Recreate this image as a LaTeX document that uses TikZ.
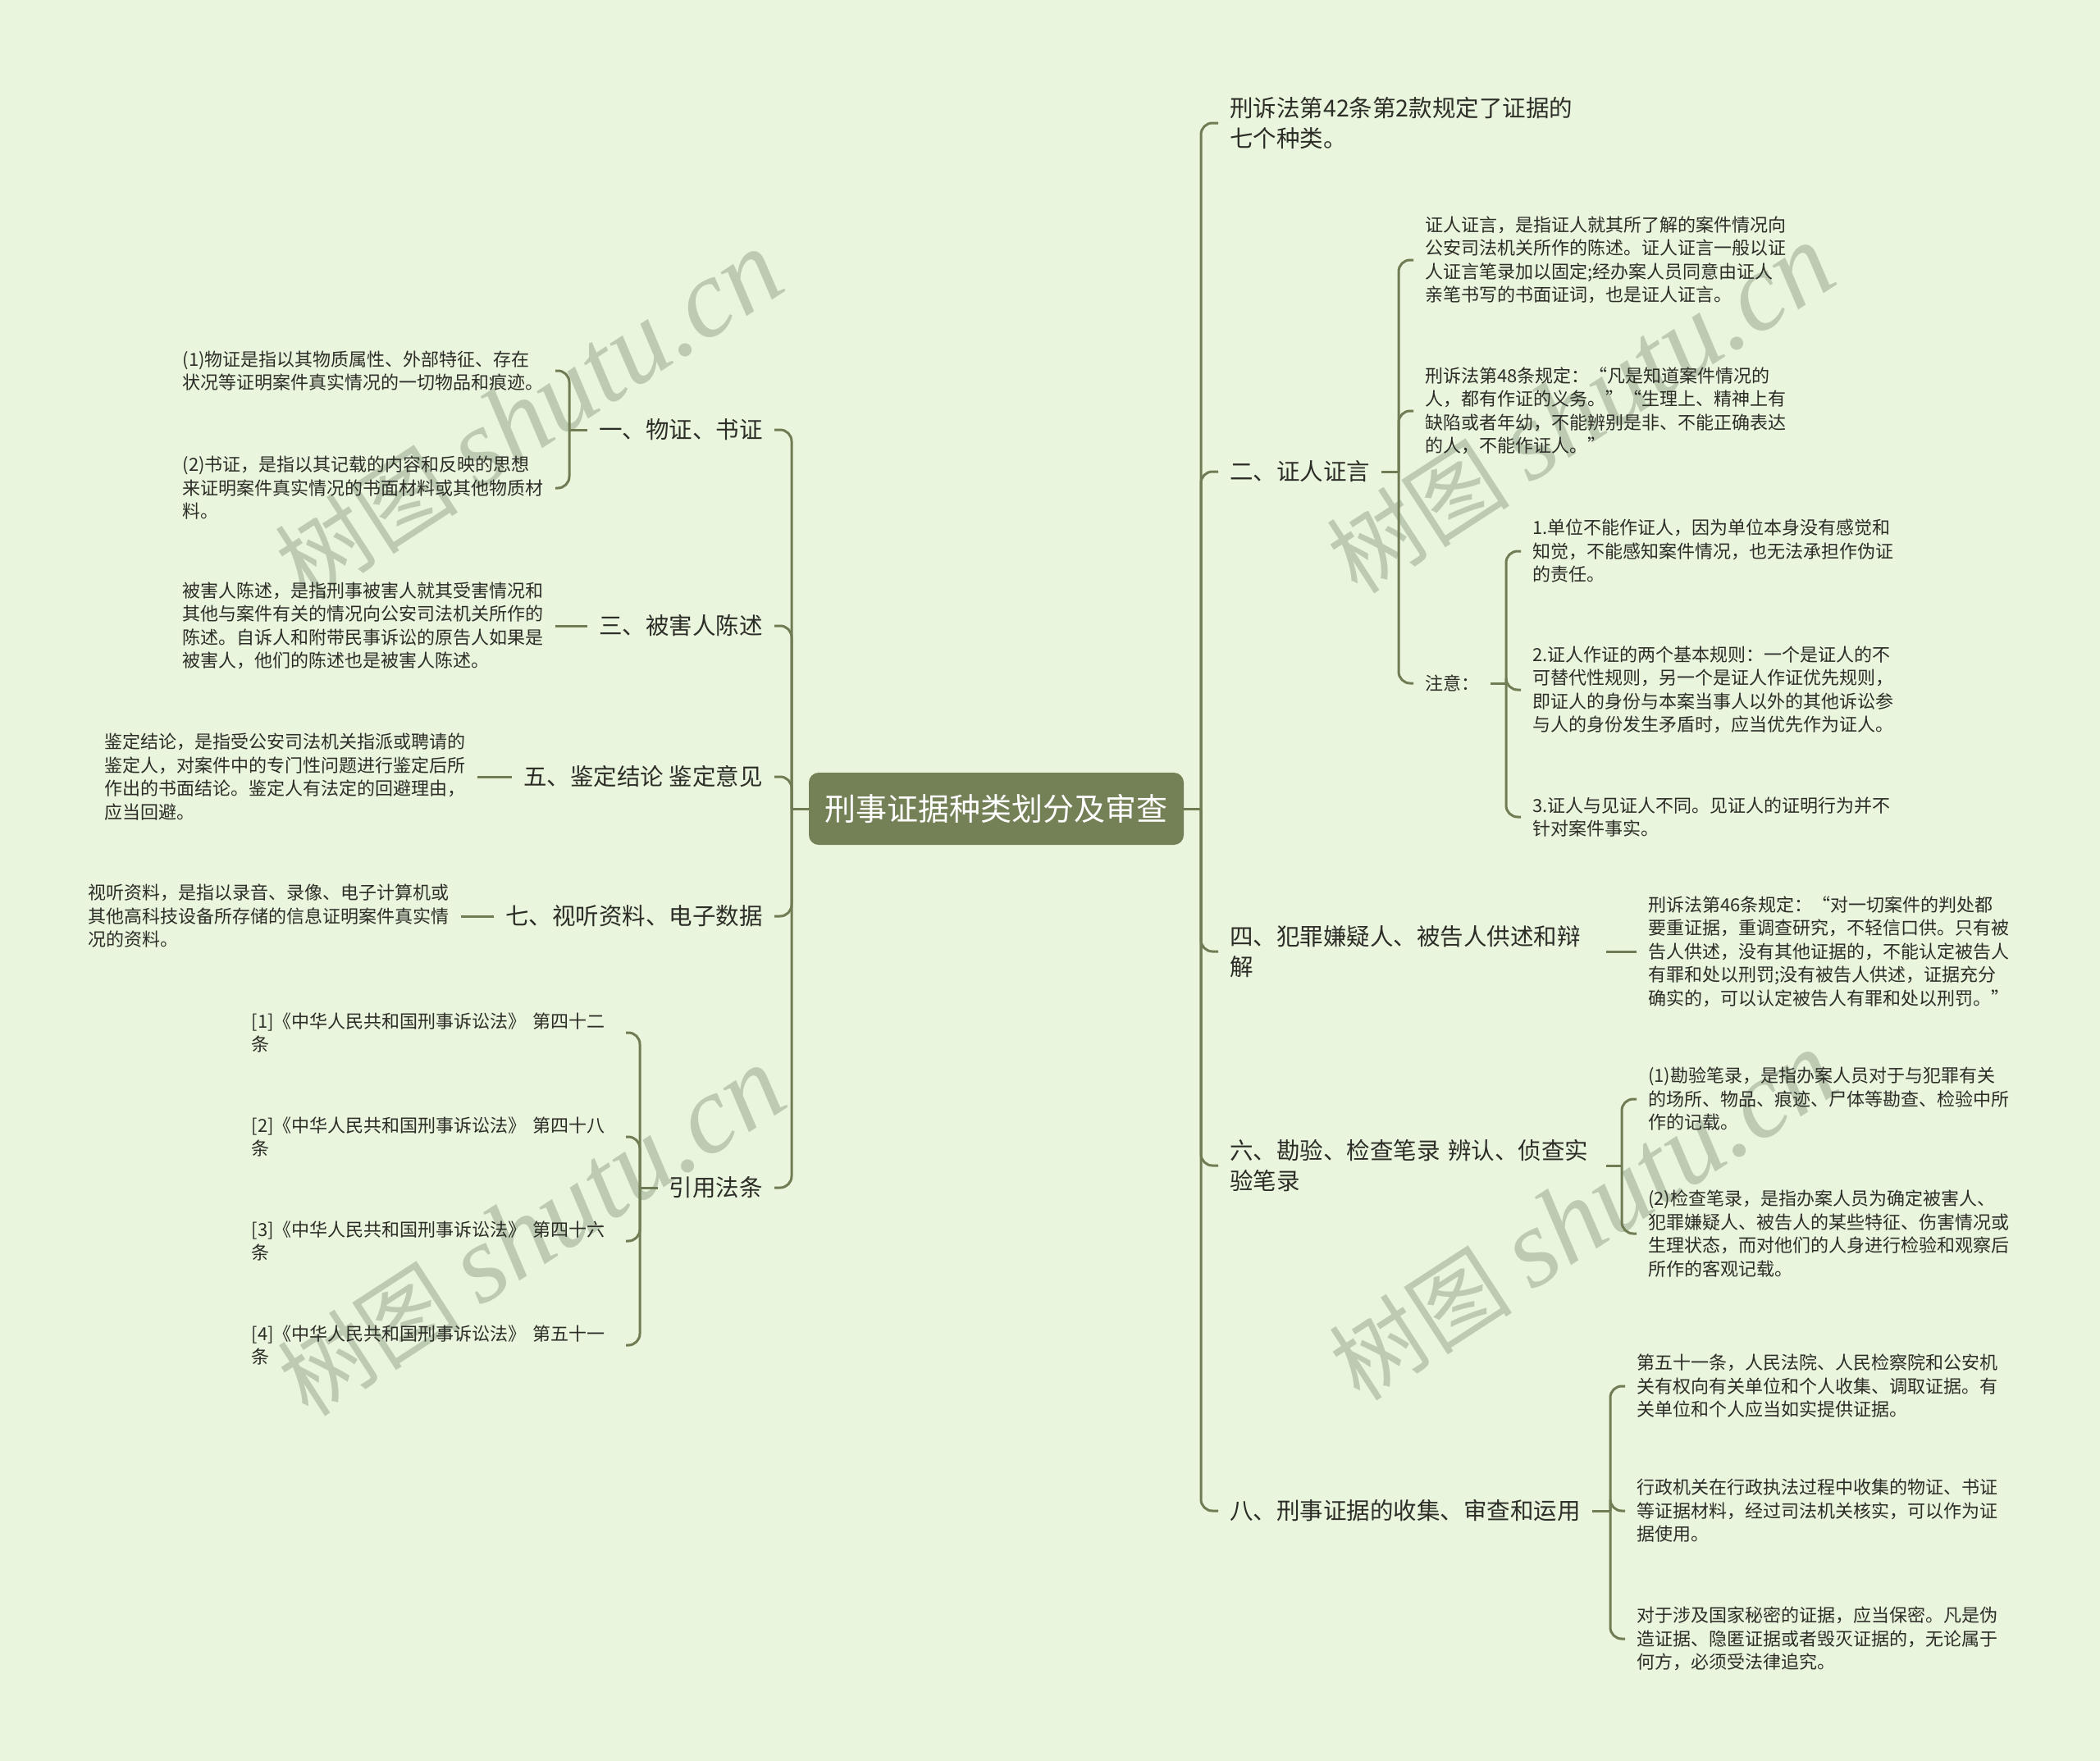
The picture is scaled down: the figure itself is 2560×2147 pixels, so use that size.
\documentclass[tikz,border=0pt]{standalone}
\usepackage{fontspec}
\setmainfont{Noto Sans CJK SC}
\newfontfamily\wmserif{Liberation Serif}
\definecolor{bg}{RGB}{233,245,220}
\definecolor{ln}{RGB}{112,124,84}
\definecolor{rootc}{RGB}{116,128,86}
\definecolor{txt}{RGB}{45,45,40}
\definecolor{wm}{RGB}{188,203,178}
\newcommand{\wmtext}{\fontsize{112}{112}\selectfont 树图\hspace{25pt}{\wmserif\itshape\fontsize{135}{135}\selectfont shutu.cn}}
\begin{document}
\begin{tikzpicture}[x=1pt,y=-1pt,
  edge/.style={draw=ln,line width=3pt,rounded corners=14pt},
  leaf/.style={font=\fontsize{22}{28.5}\selectfont,align=left,inner xsep=14pt,inner ysep=4pt,text=txt},
  big/.style={font=\fontsize{28.5}{37.5}\selectfont,align=left,inner xsep=14pt,inner ysep=4pt,text=txt},
  rootbox/.style={fill=rootc,rounded corners=12pt,text=white,font=\fontsize{38}{40}\selectfont,minimum width=457pt,minimum height=88pt,inner sep=0pt},
  wmark/.style={rotate=33,text=wm,inner sep=0pt}]
\fill[bg] (0,0) rectangle (2560,2147);
\useasboundingbox (0,0) rectangle (2560,2147);

% watermarks
\node[wmark] (w1) at (645,507) {\wmtext};
\node[wmark] (w2) at (1927,499) {\wmtext};
\node[wmark] (w3) at (648,1502) {\wmtext};
\node[wmark] (w4) at (1930,1483) {\wmtext};

% root
\node[rootbox] (C) at (1214.5,986) {刑事证据种类划分及审查};
\coordinate (tR) at (1464,986);
\coordinate (tL) at (965,986);

% right level 1
\node[big,anchor=west] (R1) at (1485,150) {刑诉法第42条第2款规定了证据的\\七个种类。};
\node[big,anchor=west] (R2) at (1485,575) {二、证人证言};
\node[big,anchor=west,text width=445pt] (R3) at (1485,1160) {四、犯罪嫌疑人、被告人供述和辩\\解};
\node[big,anchor=west,text width=445pt] (R4) at (1485,1421) {六、勘验、检查笔录 辨认、侦查实\\验笔录};
\node[big,anchor=west] (R5) at (1485,1842) {八、刑事证据的收集、审查和运用};

% R2 children
\node[leaf,anchor=west] (R2a) at (1723,317) {证人证言，是指证人就其所了解的案件情况向\\公安司法机关所作的陈述。证人证言一般以证\\人证言笔录加以固定;经办案人员同意由证人\\亲笔书写的书面证词，也是证人证言。};
\node[leaf,anchor=west] (R2b) at (1723,501) {刑诉法第48条规定：“凡是知道案件情况的\\人，都有作证的义务。”“生理上、精神上有\\缺陷或者年幼，不能辨别是非、不能正确表达\\的人，不能作证人。”};
\node[leaf,anchor=west] (R2c) at (1723,833) {注意：};
\node[leaf,anchor=west] (N1) at (1854,672) {1.单位不能作证人，因为单位本身没有感觉和\\知觉，不能感知案件情况，也无法承担作伪证\\的责任。};
\node[leaf,anchor=west] (N2) at (1854,841) {2.证人作证的两个基本规则：一个是证人的不\\可替代性规则，另一个是证人作证优先规则，\\即证人的身份与本案当事人以外的其他诉讼参\\与人的身份发生矛盾时，应当优先作为证人。};
\node[leaf,anchor=west] (N3) at (1854,996) {3.证人与见证人不同。见证人的证明行为并不\\针对案件事实。};

% R3 child
\node[leaf,anchor=west] (R3a) at (1995,1160) {刑诉法第46条规定：“对一切案件的判处都\\要重证据，重调查研究，不轻信口供。只有被\\告人供述，没有其他证据的，不能认定被告人\\有罪和处以刑罚;没有被告人供述，证据充分\\确实的，可以认定被告人有罪和处以刑罚。”};

% R4 children
\node[leaf,anchor=west] (R4a) at (1995,1340) {(1)勘验笔录，是指办案人员对于与犯罪有关\\的场所、物品、痕迹、尸体等勘查、检验中所\\作的记载。};
\node[leaf,anchor=west] (R4b) at (1995,1504) {(2)检查笔录，是指办案人员为确定被害人、\\犯罪嫌疑人、被告人的某些特征、伤害情况或\\生理状态，而对他们的人身进行检验和观察后\\所作的客观记载。};

% R5 children
\node[leaf,anchor=west] (R5a) at (1981,1690) {第五十一条，人民法院、人民检察院和公安机\\关有权向有关单位和个人收集、调取证据。有\\关单位和个人应当如实提供证据。};
\node[leaf,anchor=west] (R5b) at (1981,1842) {行政机关在行政执法过程中收集的物证、书证\\等证据材料，经过司法机关核实，可以作为证\\据使用。};
\node[leaf,anchor=west] (R5c) at (1981,1998) {对于涉及国家秘密的证据，应当保密。凡是伪\\造证据、隐匿证据或者毁灭证据的，无论属于\\何方，必须受法律追究。};

% left level 1
\node[big,anchor=east] (L1) at (944,524) {一、物证、书证};
\node[big,anchor=east] (L2) at (944,763) {三、被害人陈述};
\node[big,anchor=east] (L3) at (944,947) {五、鉴定结论 鉴定意见};
\node[big,anchor=east] (L4) at (944,1117) {七、视听资料、电子数据};
\node[big,anchor=east] (L5) at (944,1448) {引用法条};

% left leaves
\node[leaf,anchor=east] (L1a) at (677,452) {(1)物证是指以其物质属性、外部特征、存在\\状况等证明案件真实情况的一切物品和痕迹。};
\node[leaf,anchor=east] (L1b) at (677,595) {(2)书证，是指以其记载的内容和反映的思想\\来证明案件真实情况的书面材料或其他物质材\\料。};
\node[leaf,anchor=east] (L2a) at (677,763) {被害人陈述，是指刑事被害人就其受害情况和\\其他与案件有关的情况向公安司法机关所作的\\陈述。自诉人和附带民事诉讼的原告人如果是\\被害人，他们的陈述也是被害人陈述。};
\node[leaf,anchor=east] (L3a) at (582,947) {鉴定结论，是指受公安司法机关指派或聘请的\\鉴定人，对案件中的专门性问题进行鉴定后所\\作出的书面结论。鉴定人有法定的回避理由，\\应当回避。};
\node[leaf,anchor=east] (L4a) at (562,1117) {视听资料，是指以录音、录像、电子计算机或\\其他高科技设备所存储的信息证明案件真实情\\况的资料。};
\node[leaf,anchor=east,text width=442pt] (L5a) at (763,1259) {[1]《中华人民共和国刑事诉讼法》 第四十二\\条};
\node[leaf,anchor=east,text width=442pt] (L5b) at (763,1386) {[2]《中华人民共和国刑事诉讼法》 第四十八\\条};
\node[leaf,anchor=east,text width=442pt] (L5c) at (763,1513) {[3]《中华人民共和国刑事诉讼法》 第四十六\\条};
\node[leaf,anchor=east,text width=442pt] (L5d) at (763,1640) {[4]《中华人民共和国刑事诉讼法》 第五十一\\条};

% connectors: root
\draw[edge] (C.east) -- (tR);
\draw[edge] (C.west) -- (tL);
\foreach \n in {R1,R2,R3,R4,R5} \draw[edge] (tR) |- (\n.west);
\foreach \n in {L1,L2,L3,L4,L5} \draw[edge] (tL) |- (\n.east);

% R2 subtree
\coordinate (sR2) at (1705,575);
\draw[edge] (R2.east) -- (sR2);
\foreach \n in {R2a,R2b,R2c} \draw[edge] (sR2) |- (\n.west);
\coordinate (sN) at (1836,833);
\draw[edge] (R2c.east) -- (sN);
\foreach \n in {N1,N2,N3} \draw[edge] (sN) |- (\n.west);

% R3
\draw[edge] (R3.east) -- (R3a.west);

% R4
\coordinate (sR4) at (1977,1421);
\draw[edge] (R4.east) -- (sR4);
\foreach \n in {R4a,R4b} \draw[edge] (sR4) |- (\n.west);

% R5
\coordinate (sR5) at (1963,1842);
\draw[edge] (R5.east) -- (sR5);
\foreach \n in {R5a,R5b,R5c} \draw[edge] (sR5) |- (\n.west);

% L1
\coordinate (sL1) at (694,524);
\draw[edge] (L1.west) -- (sL1);
\foreach \n in {L1a,L1b} \draw[edge] (sL1) |- (\n.east);

% L2, L3, L4
\draw[edge] (L2.west) -- (L2a.east);
\draw[edge] (L3.west) -- (L3a.east);
\draw[edge] (L4.west) -- (L4a.east);

% L5
\coordinate (sL5) at (780,1448);
\draw[edge] (L5.west) -- (sL5);
\foreach \n in {L5a,L5b,L5c,L5d} \draw[edge] (sL5) |- (\n.east);
\end{tikzpicture}
\end{document}
